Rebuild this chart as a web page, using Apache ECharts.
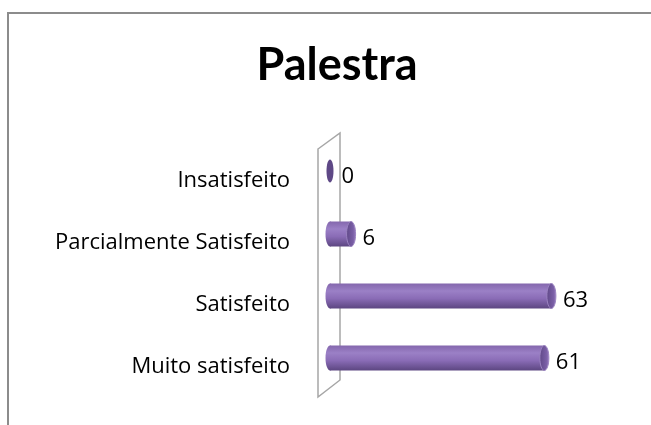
<!DOCTYPE html>
<html>
<head>
<meta charset="utf-8">
<script src="https://cdn.jsdelivr.net/npm/echarts@6/dist/echarts.min.js"></script>
<style>
  * { margin: 0; padding: 0; }
  body { background: #fff; }
</style>
</head>
<body>
<div id="main" style="width: 651px;height: 425px;"></div>
<script>
  // dados do gráfico (de baixo para cima)
  var categories = ['Muito satisfeito', 'Satisfeito', 'Parcialmente Satisfeito', 'Insatisfeito'];
  var values = [61, 63, 6, 0];
  var titleText = 'Palestra';

  var FONT = 'Open Sans';

  // corpo do cilindro: gradiente vertical
  var bodyGrad = new echarts.graphic.LinearGradient(0, 0, 0, 1, [
    { offset: 0, color: '#8467ad' },
    { offset: 0.3, color: '#9b80c6' },
    { offset: 0.6, color: '#8a6cb6' },
    { offset: 1, color: '#5c4681' }
  ]);
  var capGrad = new echarts.graphic.LinearGradient(0, 0, 1, 0, [
    { offset: 0, color: '#5f4887' },
    { offset: 0.7, color: '#7a5fa6' },
    { offset: 1, color: '#9a80c2' }
  ]);

  function renderCylinder (params, api) {
    var v = api.value(0);
    var idx = api.value(1);
    var s = api.coord([0, idx]);
    var e = api.coord([v, idx]);
    var h = 25, rx = 4.5;
    var cy = s[1];
    var children = [];
    if (v > 0) {
      children.push({
        type: 'ellipse',
        shape: { cx: s[0], cy: cy, rx: rx, ry: h / 2 },
        style: { fill: bodyGrad }
      });
      children.push({
        type: 'rect',
        shape: { x: s[0], y: cy - h / 2, width: e[0] - s[0], height: h },
        style: { fill: bodyGrad }
      });
      children.push({
        type: 'ellipse',
        shape: { cx: e[0], cy: cy, rx: rx, ry: h / 2 },
        style: { fill: capGrad, stroke: '#9a82c0', lineWidth: 1 }
      });
    } else {
      children.push({
        type: 'ellipse',
        shape: { cx: s[0], cy: cy - 1, rx: 3.5, ry: h / 2 - 1 },
        style: { fill: '#5e4886' }
      });
    }
    children.push({
      type: 'text',
      style: {
        text: String(v),
        x: e[0] + rx + 7,
        y: cy + 5,
        verticalAlign: 'middle',
        align: 'left',
        fill: '#000',
        font: '22px "' + FONT + '"'
      }
    });
    return { type: 'group', children: children };
  }

  function renderWall (params, api) {
    var c = params.coordSys;
    var x0 = c.x, top = c.y, bot = c.y + c.height;
    return {
      type: 'polygon',
      shape: {
        points: [
          [x0 - 12, top + 8],
          [x0 + 10, top - 8],
          [x0 + 10, bot - 9],
          [x0 - 12, bot + 8]
        ]
      },
      style: { fill: '#fff', stroke: '#a6a6a6', lineWidth: 1.5 }
    };
  }

  var chart = echarts.init(document.getElementById('main'));
  chart.setOption({
    animation: false,
    title: {
      text: titleText,
      left: 332,
      textAlign: 'center',
      top: 38,
      textStyle: { fontFamily: 'Lato', fontWeight: 'bold', fontSize: 45, color: '#000' }
    },
    graphic: [{
      type: 'rect',
      shape: { x: 8, y: 13, width: 800, height: 600 },
      style: { fill: 'none', stroke: '#8c8c8c', lineWidth: 2 },
      silent: true
    }],
    grid: { left: 330, right: 75, top: 141, bottom: 36 },
    xAxis: {
      type: 'value',
      min: 0,
      max: 70,
      show: false
    },
    yAxis: {
      type: 'category',
      data: categories,
      axisLine: { show: false },
      axisTick: { show: false },
      splitLine: { show: false },
      axisLabel: {
        margin: 40,
        fontFamily: FONT,
        fontSize: 22,
        color: '#000',
        verticalAlign: 'top',
        lineHeight: 18
      }
    },
    series: [
      {
        type: 'custom',
        renderItem: renderWall,
        data: [[0, 0]],
        z: 1,
        silent: true
      },
      {
        type: 'custom',
        renderItem: renderCylinder,
        encode: { x: 0, y: 1 },
        data: values.map(function (v, i) { return [v, i]; }),
        z: 2
      }
    ]
  });
</script>
</body>
</html>
